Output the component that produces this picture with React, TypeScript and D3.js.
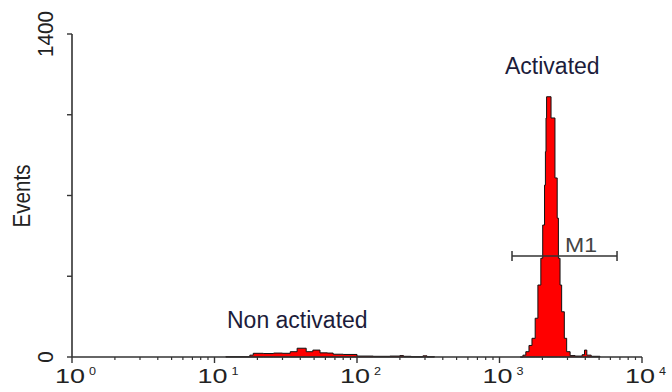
import React from 'react'
import * as d3 from 'd3'

// fluorescence channel (left edge of bin) and events per bin
const nonActIntensity = [12, 17.7, 18.7, 22, 26, 30, 34, 38, 44, 49, 55, 62, 68, 80, 100, 130, 170, 200, 212, 240, 290, 310, 350]
const nonActCounts = [1, 8, 16, 15, 17, 16, 23, 38, 23, 30, 18, 17, 12, 11, 4, 3, 4, 6, 3, 1, 5, 1, 0]

const actIntensity = [1400, 1460, 1530, 1610, 1690, 1780, 1860, 1950, 2010, 2070, 2100, 2120, 2140, 2300, 2450, 2540, 2590, 2660, 2730, 2850, 2960, 3130, 3390, 3800, 3950, 4100, 4400, 5070]
const actCounts = [0, 8, 23, 50, 81, 168, 312, 428, 572, 745, 890, 1036, 1128, 1036, 776, 602, 428, 312, 196, 81, 23, 6, 4, 10, 30, 8, 3, 0]

const yTicks = [0, 350, 700, 1050, 1400]
const yTickLabels = ['0', '1400']
const xDecades = [1, 10, 100, 1000, 10000]
const xLabelExp = ['0', '1', '2', '3', '4']
const marker = { name: 'M1', from: 1224, to: 6680, level: 438 }

const width = 672
const height = 392

export default function App() {
  const x = d3.scaleLog().domain([1, 10000]).range([72, 642])
  const y = d3.scaleLinear().domain([0, 1400]).range([357, 34])

  const area = d3
    .area<[number, number]>()
    .x(d => x(d[0]))
    .y0(y(0))
    .y1(d => y(d[1]))
    .curve(d3.curveStepAfter)

  const nonAct = nonActIntensity.map((v, i) => [v, nonActCounts[i]] as [number, number])
  const act = actIntensity.map((v, i) => [v, actCounts[i]] as [number, number])

  const minor: number[] = []
  for (let d = 0; d < 4; d++) {
    for (let k = 2; k < 10; k++) minor.push(k * xDecades[d])
  }

  const axisColor = '#333'
  const font = 'Liberation Sans, Arial, sans-serif'
  const labelColor = '#1c1c3a'

  return (
    <svg width={width} height={height} style={{ position: 'absolute', left: 0, top: 0, background: '#fff' }}>
      {/* histograms */}
      <path d={area(nonAct) || ''} fill="#ff0000" stroke="#111" strokeWidth={1} />
      <path d={area(act) || ''} fill="#ff0000" stroke="#111" strokeWidth={1} />

      {/* y axis */}
      <line x1={x(1)} x2={x(1)} y1={y(0)} y2={y(1400)} stroke={axisColor} strokeWidth={1.6} />
      {yTicks.map(t => (
        <line key={t} x1={x(1) - 5} x2={x(1)} y1={y(t)} y2={y(t)} stroke={axisColor} strokeWidth={1.4} />
      ))}
      {yTickLabels.map(l => (
        <text
          key={l}
          transform={`translate(${x(1) - 19},${y(+l)}) rotate(-90)`}
          textAnchor="middle"
          fontFamily={font}
          fontSize={22}
          fill="#222"
          textLength={l.length * 11.5}
          lengthAdjust="spacingAndGlyphs"
        >
          {l}
        </text>
      ))}
      <text
        transform={`translate(30,${196}) rotate(-90)`}
        textAnchor="middle"
        fontFamily={font}
        fontSize={23}
        fill="#222"
        textLength={63}
        lengthAdjust="spacingAndGlyphs"
      >
        Events
      </text>

      {/* x axis */}
      <line x1={x(1)} x2={x(10000)} y1={y(0)} y2={y(0)} stroke={axisColor} strokeWidth={1.6} />
      {minor.map(t => (
        <line key={t} x1={x(t)} x2={x(t)} y1={y(0)} y2={y(0) + 3} stroke={axisColor} strokeWidth={1.2} />
      ))}
      {xDecades.map((t, i) => (
        <g key={t}>
          <line x1={x(t)} x2={x(t)} y1={y(0)} y2={y(0) + 6} stroke={axisColor} strokeWidth={1.4} />
          <text
            x={x(t) - 2}
            y={383}
            textAnchor="middle"
            fontFamily={font}
            fontSize={21}
            fill="#222"
            textLength={30}
            lengthAdjust="spacingAndGlyphs"
          >
            10
          </text>
          <text x={x(t) + 17} y={375} fontFamily={font} fontSize={10} fill="#222" textLength={7} lengthAdjust="spacingAndGlyphs">
            {xLabelExp[i]}
          </text>
        </g>
      ))}

      {/* marker */}
      <g stroke="#333" strokeWidth={1.5}>
        <line x1={x(marker.from)} x2={x(marker.to)} y1={y(marker.level)} y2={y(marker.level)} />
        <line x1={x(marker.from)} x2={x(marker.from)} y1={y(marker.level) - 5} y2={y(marker.level) + 5} />
        <line x1={x(marker.to)} x2={x(marker.to)} y1={y(marker.level) - 5} y2={y(marker.level) + 5} />
      </g>
      <text x={565} y={252} fontFamily={font} fontSize={21} fill="#444" textLength={32} lengthAdjust="spacingAndGlyphs">
        {marker.name}
      </text>

      {/* annotations */}
      <text x={505} y={74} fontFamily={font} fontSize={23} fill={labelColor}>
        Activated
      </text>
      <text x={227} y={328} fontFamily={font} fontSize={23} fill={labelColor}>
        Non activated
      </text>
    </svg>
  )
}
